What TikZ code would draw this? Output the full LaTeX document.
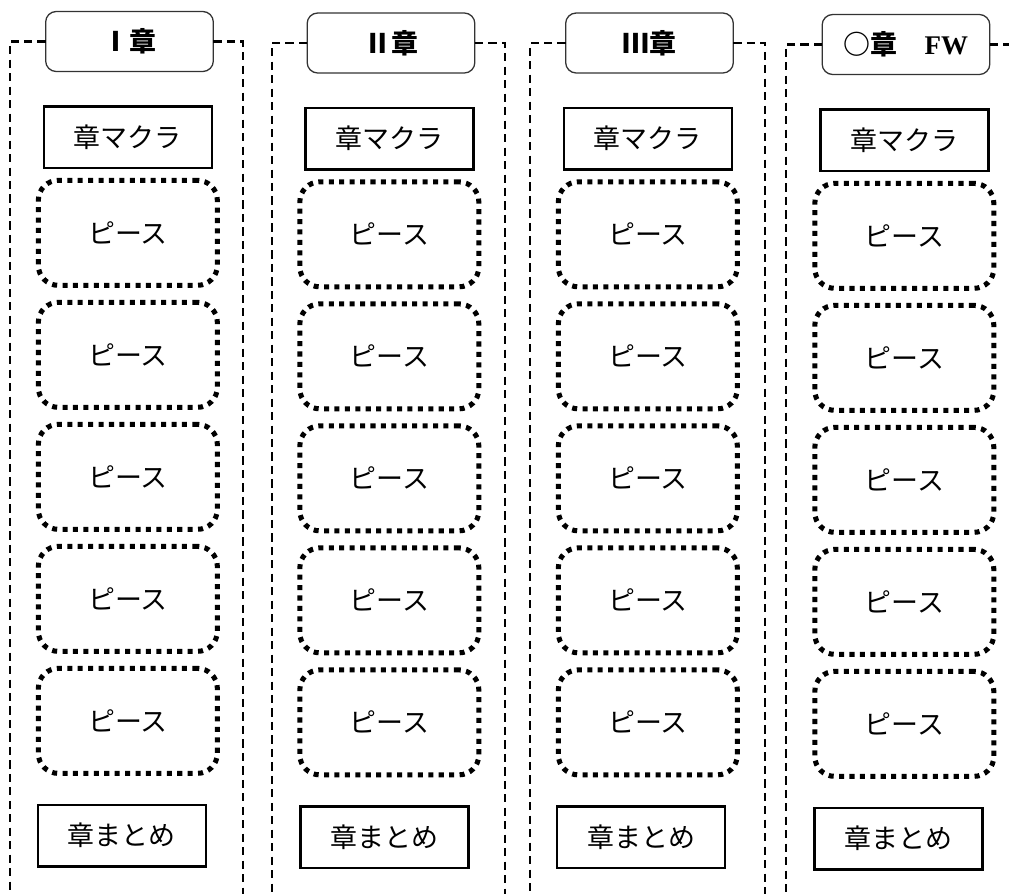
\documentclass[tikz,border=0pt]{standalone}
\usepackage{fontspec}
\setmainfont{Liberation Serif}
\newfontfamily\jp{Noto Sans CJK JP}
\usetikzlibrary{positioning}
\tikzset{
    chapter/.style={
        rectangle, rounded corners=9pt, minimum width=5.03cm, minimum height=1.8cm, outer sep=0pt,
        text centered, draw=black!80, line width=1.1pt, font=\jp\bfseries\fontsize{23pt}{27pt}\selectfont
    },
    partbox/.style={
        rectangle, minimum width=5.04cm, minimum height=1.84cm, outer sep=0pt,
        text centered, draw=black, line width=2pt, font=\jp\fontsize{23pt}{27pt}\selectfont
    },
    piece/.style={
        rectangle, rounded corners=17pt, minimum width=5.37cm, minimum height=3.15cm, outer sep=0pt,
        text centered, draw=black, line width=4.3pt, dash pattern=on 4.3pt off 4.6pt,
        font=\jp\fontsize{23pt}{27pt}\selectfont
    },
    frame/.style={
        draw=black, line width=1.9pt, dash pattern=on 7pt off 4.5pt
    }
}

\begin{document}
\begin{tikzpicture}[x=0.03cm, y=-0.03cm, node distance=0.51cm]
    \useasboundingbox (0,0) rectangle (1009,894);

    % ── Column I ──
    \node[chapter] (head1) at (129.5,41.5) {Ⅰ章};
    \node[partbox, below=1.05cm of head1, xshift=-0.05cm]   (makura1) {章マクラ};
    \node[piece, below=0.375cm of makura1]                  (piece1a) {ピース};
    \node[piece, below=of piece1a]                          (piece1b) {ピース};
    \node[piece, below=of piece1b]                          (piece1c) {ピース};
    \node[piece, below=of piece1c]                          (piece1d) {ピース};
    \node[piece, below=of piece1d]                          (piece1e) {ピース};
    \node[partbox, below=0.95cm of piece1e, xshift=-0.18cm] (matome1) {章まとめ};

    % ── Column II ──
    \node[chapter] (head2) at (391,43) {Ⅱ章};
    \node[partbox, below=1.05cm of head2, xshift=-0.05cm]   (makura2) {章マクラ};
    \node[piece, below=0.375cm of makura2]                  (piece2a) {ピース};
    \node[piece, below=of piece2a]                          (piece2b) {ピース};
    \node[piece, below=of piece2b]                          (piece2c) {ピース};
    \node[piece, below=of piece2c]                          (piece2d) {ピース};
    \node[piece, below=of piece2d]                          (piece2e) {ピース};
    \node[partbox, below=0.95cm of piece2e, xshift=-0.15cm] (matome2) {章まとめ};

    % ── Column III ──
    \node[chapter] (head3) at (649.5,43) {Ⅲ章};
    \node[partbox, below=1.05cm of head3, xshift=-0.05cm]   (makura3) {章マクラ};
    \node[piece, below=0.375cm of makura3]                  (piece3a) {ピース};
    \node[piece, below=of piece3a]                          (piece3b) {ピース};
    \node[piece, below=of piece3b]                          (piece3c) {ピース};
    \node[piece, below=of piece3c]                          (piece3d) {ピース};
    \node[piece, below=of piece3d]                          (piece3e) {ピース};
    \node[partbox, below=0.95cm of piece3e, xshift=-0.2cm]  (matome3) {章まとめ};

    % ── Column FW ──
    \node[chapter] (head4) at (906,44.5) {○章\quad{\rmfamily FW}};
    \node[partbox, below=1.05cm of head4, xshift=-0.05cm]   (makura4) {章マクラ};
    \node[piece, below=0.375cm of makura4]                  (piece4a) {ピース};
    \node[piece, below=of piece4a]                          (piece4b) {ピース};
    \node[piece, below=of piece4b]                          (piece4c) {ピース};
    \node[piece, below=of piece4c]                          (piece4d) {ピース};
    \node[piece, below=of piece4d]                          (piece4e) {ピース};
    \node[partbox, below=0.95cm of piece4e, xshift=-0.18cm] (matome4) {章まとめ};

    % ── Dashed frames ──
    \coordinate (frame1l) at (10,894);
    \coordinate (frame1r) at (243,894);
    \coordinate (frame2l) at (272,894);
    \coordinate (frame2r) at (505,894);
    \coordinate (frame3l) at (530,894);
    \coordinate (frame3r) at (765,894);
    \coordinate (frame4l) at (786,894);
    \coordinate (frame4r) at (1009,44.5);

    \draw[frame] (head1.west) -| (frame1l);
    \draw[frame] (head1.east) -| (frame1r);
    \draw[frame] (head2.west) -| (frame2l);
    \draw[frame] (head2.east) -| (frame2r);
    \draw[frame] (head3.west) -| (frame3l);
    \draw[frame] (head3.east) -| (frame3r);
    \draw[frame] (head4.west) -| (frame4l);
    \draw[frame] (head4.east) -- (frame4r);

\end{tikzpicture}
\end{document}
